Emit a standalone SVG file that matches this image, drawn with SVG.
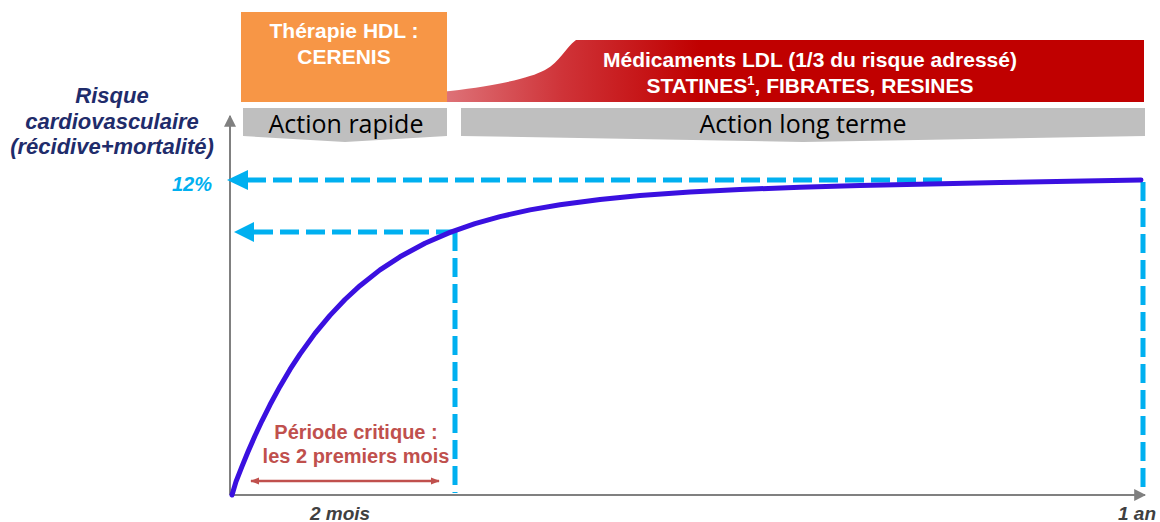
<svg xmlns="http://www.w3.org/2000/svg" width="1160" height="522" viewBox="0 0 1160 522">
<defs>
<linearGradient id="redGrad" gradientUnits="userSpaceOnUse" x1="241" y1="0" x2="700" y2="0">
<stop offset="0" stop-color="#F6D0D2"/>
<stop offset="0.35" stop-color="#E38A90"/>
<stop offset="0.7" stop-color="#CF3338"/>
<stop offset="1" stop-color="#C00000"/>
</linearGradient>
<marker id="grayArrow" viewBox="0 0 10 10" refX="9" refY="5" markerWidth="12" markerHeight="12" orient="auto" markerUnits="userSpaceOnUse">
<path d="M0,0 L10,5 L0,10 Z" fill="#808080"/>
</marker>
<marker id="redArrow" viewBox="0 0 10 10" refX="9" refY="5" markerWidth="9" markerHeight="9" orient="auto-start-reverse" markerUnits="userSpaceOnUse">
<path d="M0,1 L10,5 L0,9 Z" fill="#C0504D"/>
</marker>
</defs>
<style>
.banner{font-family:"Liberation Sans",Arial,sans-serif;font-weight:bold;font-size:21px;fill:#FFFFFF;text-anchor:middle}
.bar{fill:#BFBFBF}
.barText{font-family:"Open Sans","Noto Sans",sans-serif;font-size:25px;fill:#000000;text-anchor:middle}
.axis{stroke:#808080;stroke-width:2;fill:none}
.dash{stroke:#00B0F0;stroke-width:5;stroke-dasharray:19 7;fill:none}
.cyanHead{fill:#00B0F0}
.ylabel{font-family:"Liberation Sans",Arial,sans-serif;font-weight:bold;font-style:italic;font-size:22px;fill:#1F2C6B;text-anchor:middle}
.tick{font-family:"Liberation Sans",Arial,sans-serif;font-weight:bold;font-style:italic;font-size:19px;fill:#404040;text-anchor:middle}
.crit{font-family:"Liberation Sans",Arial,sans-serif;font-weight:bold;font-size:20px;fill:#C0504D;text-anchor:middle}
</style>

<g id="ldl-band">
<path d="M241,102 L241,100 C330,98 420,94 450,91 C500,85 530,78 545,70 C560,62 565,48 576,40 L1144,40 L1144,102 Z" fill="url(#redGrad)"/>
<text class="banner" x="810" y="67">Médicaments LDL (1/3 du risque adressé)</text>
<text class="banner" x="810" y="93">STATINES<tspan font-size="13" dy="-8">1</tspan><tspan dy="8">, FIBRATES, RESINES</tspan></text>
</g>

<g id="hdl-box">
<rect x="241" y="12" width="206" height="90" fill="#F79646"/>
<text class="banner" x="344" y="38">Thérapie HDL :</text>
<text class="banner" x="344" y="64">CERENIS</text>
</g>

<g id="action-rapide">
<path class="bar" d="M243,108 L447,108 L447,136 L345,142 L243,136 Z"/>
<text class="barText" x="346" y="133">Action rapide</text>
</g>

<g id="action-long">
<path class="bar" d="M461,108 L1145,108 L1145,136 L803,142 L461,136 Z"/>
<text class="barText" x="803" y="133">Action long terme</text>
</g>

<g id="axes">
<line class="axis" x1="230" y1="495" x2="230" y2="116" marker-end="url(#grayArrow)"/>
<line class="axis" x1="230" y1="495" x2="1145" y2="495" marker-end="url(#grayArrow)"/>
</g>

<g id="y-label">
<text class="ylabel" x="112" y="103">Risque</text>
<text class="ylabel" x="112" y="129">cardiovasculaire</text>
<text class="ylabel" x="112" y="154">(récidive+mortalité)</text>
<text class="ylabel" x="192" y="191" style="fill:#00B0F0;font-size:20px">12%</text>
</g>

<g id="connectors">
<line class="dash" x1="942" y1="180" x2="245" y2="180"/>
<path class="cyanHead" d="M227,180 L248,170 L248,190 Z"/>
<line class="dash" x1="455" y1="232" x2="251" y2="232"/>
<path class="cyanHead" d="M234,232 L254,222 L254,242 Z"/>
<line class="dash" x1="455" y1="232" x2="455" y2="493"/>
<line class="dash" x1="1143" y1="182" x2="1143" y2="493"/>
</g>

<g id="curve">
<polyline fill="none" stroke="#3A10E0" stroke-width="5" stroke-linecap="round" stroke-linejoin="round" points="232,495 236,481.6 242,466.3 248,451.8 255,435.8 262,420.8 270,404.8 280,386.4 290,369.4 300,354.1 315,333.4 330,315.4 345,299.5 360,285.7 380,269.9 400,256.8 425,243.2 450,232.4 475,223.6 500,216.6 530,209.9 560,204.7 600,199.4 640,195.6 690,192 740,189.5 800,187.3 860,185.6 930,184 1000,182.6 1070,181.3 1141,180"/>
</g>

<g id="critical-period">
<text class="crit" x="356" y="439">Période critique :</text>
<text class="crit" x="356" y="463">les 2 premiers mois</text>
<line x1="251" y1="481" x2="439" y2="481" stroke="#C0504D" stroke-width="2.5" marker-start="url(#redArrow)" marker-end="url(#redArrow)"/>
</g>

<g id="x-labels">
<text class="tick" x="340" y="520">2 mois</text>
<text class="tick" x="1137" y="520">1 an</text>
</g>
</svg>
